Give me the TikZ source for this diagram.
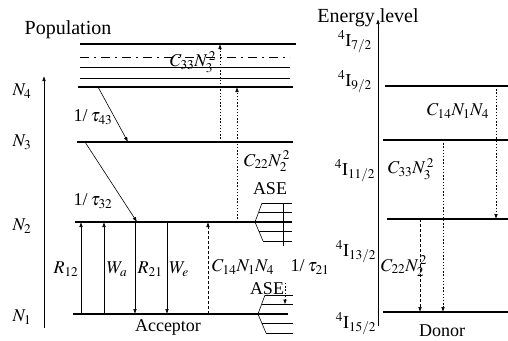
\documentclass[tikz,border=0pt]{standalone}
\usepackage{mathptmx}
\usepackage{fontspec}
\setmainfont{Liberation Serif}
\usetikzlibrary{arrows.meta}
\begin{document}
\begin{tikzpicture}[x=1pt,y=-1pt,
  lvl/.style={line width=2.2pt},
  sublvl/.style={line width=0.6pt},
  arr/.style={line width=0.6pt,-{Latex[length=5pt,width=3.6pt]}},
  dotarr/.style={arr,dash pattern=on 1.4pt off 1.8pt},
  dasharr/.style={arr,dash pattern=on 3pt off 2pt},
  lab/.style={font=\fontsize{18}{21}\selectfont,inner sep=0pt},
  ttl/.style={font=\fontsize{20}{23}\selectfont,inner sep=0pt}]
\useasboundingbox (0,0) rectangle (508,340);

% ---------------- acceptor (left) ----------------
\node[ttl] (pop) at (68,30) {Population};
\coordinate (axLb) at (44,328); \coordinate (axLt) at (44,76);
\draw[arr] (axLb) -- (axLt);

% upper manifold
\draw[lvl] (80,44) -- (296,44);
\draw[sublvl,dash pattern=on 9pt off 5pt on 2pt off 5pt] (80,57) -- (290,57);
\draw[sublvl] (80,67) -- (290,67);
\draw[sublvl] (80,78) -- (290,78);
\coordinate (n4L) at (78,87);  \coordinate (n4R) at (293,87);
\coordinate (n3L) at (77,142); \coordinate (n3R) at (293,142);
\coordinate (n2L) at (75,222); \coordinate (n2R) at (292,222);
\coordinate (n1L) at (73,314); \coordinate (n1R) at (288,314);
\draw[lvl] (n4L) -- (n4R);
\draw[lvl] (n3L) -- (n3R);
\draw[lvl] (n2L) -- (n2R);
\draw[lvl] (n1L) -- (n1R);

\node[lab] (N4) at (22,91) {$N_4$};
\node[lab] (N3) at (22,142) {$N_3$};
\node[lab] (N2) at (22,226) {$N_2$};
\node[lab] (N1) at (22,317) {$N_1$};

% relaxations
\coordinate (t43a) at (98,87);  \coordinate (t43b) at (128,142);
\draw[arr] (t43a) -- (t43b);
\coordinate (t32a) at (85,142); \coordinate (t32b) at (137,222);
\draw[arr] (t32a) -- (t32b);
\node[lab] (lt43) at (93,117) {1/\,$\tau_{43}$};
\node[lab] (lt32) at (93,201) {1/\,$\tau_{32}$};

% upconversion (dotted)
\coordinate (c33a) at (220,142); \coordinate (c33b) at (220,44);
\draw[dotarr] (c33a) -- (c33b);
\coordinate (c22a) at (237,222); \coordinate (c22b) at (237,87);
\draw[dotarr] (c22a) -- (c22b);
\node[lab] (lc33) at (193,62) {$C_{33}N_3^{\,2}$};
\node[lab] (lc22) at (267,161) {$C_{22}N_2^{\,2}$};

% transitions N1 <-> N2
\coordinate (r12a) at (81,314);  \coordinate (r12b) at (81,222);
\coordinate (waa)  at (104,314); \coordinate (wab)  at (104,222);
\coordinate (r21a) at (135,222); \coordinate (r21b) at (135,314);
\coordinate (wea)  at (167,222); \coordinate (web)  at (167,314);
\coordinate (c14a) at (208,314); \coordinate (c14b) at (208,222);
\draw[arr] (r12a) -- (r12b);
\draw[arr] (waa) -- (wab);
\draw[arr] (r21a) -- (r21b);
\draw[arr] (wea) -- (web);
\draw[dasharr] (c14a) -- (c14b);
\node[lab] (lr12) at (66,269) {$R_{12}$};
\node[lab] (lwa)  at (117,269) {$W_a$};
\node[lab] (lr21) at (150,269) {$R_{21}$};
\node[lab] (lwe)  at (179,269) {$W_e$};
\node[lab] (lc14) at (243,267) {$C_{14}N_1N_4$};
\node[lab] (lt21) at (310,267) {1/\,$\tau_{21}$};

% ASE symbols
\draw[sublvl] (262,203) -- (255,222) -- (263,241);
\draw[sublvl] (262,203) -- (292,203);
\draw[sublvl] (258.5,212.5) -- (292,212.5);
\draw[sublvl] (259,231.5) -- (292,231.5);
\draw[sublvl] (263,241) -- (292,241);
\draw[sublvl] (283,203) -- (283,246);
\node[lab] (ase1) at (270,189) {ASE};

\draw[sublvl] (265,295) -- (258,314) -- (266,333);
\draw[sublvl] (265,295) -- (293,295);
\draw[sublvl] (261.5,304.5) -- (293,304.5);
\draw[sublvl] (262,323.5) -- (293,323.5);
\draw[sublvl] (266,333) -- (293,333);
\node[lab] (ase2) at (267,289) {ASE};
\coordinate (t21a) at (285,283); \coordinate (t21b) at (285,304.5);
\draw[dotarr] (t21a) -- (t21b);

\node[lab] (acc) at (168,327) {Acceptor};

% ---------------- donor (right) ----------------
\node[ttl] (en) at (368,18) {Energy level};
\coordinate (axRb) at (378,326); \coordinate (axRt) at (378,19);
\draw[arr] (axRb) -- (axRt);

\coordinate (d1L) at (385,86);  \coordinate (d1R) at (508,86);
\coordinate (d2L) at (383,140); \coordinate (d2R) at (508,140);
\coordinate (d3L) at (387,219); \coordinate (d3R) at (508,219);
\coordinate (d4L) at (383,312); \coordinate (d4R) at (508,312);
\draw[lvl] (d1L) -- (d1R);
\draw[lvl] (d2L) -- (d2R);
\draw[lvl] (d3L) -- (d3R);
\draw[lvl] (d4L) -- (d4R);

\node[lab] (i7)  at (355,42)  {${}^4\mathrm{I}_{7/2}$};
\node[lab] (i9)  at (355,82)  {${}^4\mathrm{I}_{9/2}$};
\node[lab] (i11) at (355,171) {${}^4\mathrm{I}_{11/2}$};
\node[lab] (i13) at (356,252) {${}^4\mathrm{I}_{13/2}$};
\node[lab] (i15) at (356,324) {${}^4\mathrm{I}_{15/2}$};

\coordinate (dc14a) at (496,86);  \coordinate (dc14b) at (496,219);
\coordinate (dc33a) at (443,140); \coordinate (dc33b) at (443,312);
\coordinate (dc22a) at (420,219); \coordinate (dc22b) at (420,312);
\draw[dotarr] (dc14a) -- (dc14b);
\draw[dotarr] (dc33a) -- (dc33b);
\draw[dasharr] (dc22a) -- (dc22b);
\node[lab] (dlc14) at (458,111) {$C_{14}N_1N_4$};
\node[lab] (dlc33) at (411,169) {$C_{33}N_3^{\,2}$};
\node[lab] (dlc22) at (404,266) {$C_{22}N_2^{\,2}$};

\node[lab] (don) at (442,331) {Donor};
\end{tikzpicture}
\end{document}
